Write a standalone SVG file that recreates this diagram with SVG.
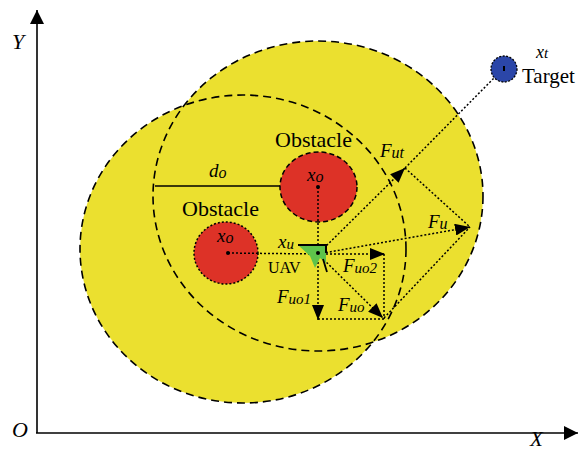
<svg xmlns="http://www.w3.org/2000/svg" width="587" height="450" viewBox="0 0 587 450">
<style>
.t{font-family:"Liberation Serif","Times New Roman",serif;fill:#000}
.i{font-style:italic}
.zone{fill:#ebe02f}
.zoneline{fill:none;stroke:#000;stroke-width:1.6;stroke-dasharray:8 5}
.dot{fill:none;stroke:#000;stroke-width:1.5;stroke-dasharray:2 2}
.axis{stroke:#000;stroke-width:1.6;fill:none}
</style>
<defs>
<marker id="ah" markerUnits="userSpaceOnUse" markerWidth="16" markerHeight="12" refX="15" refY="6" orient="auto">
<path d="M0,0 L15,6 L0,12 Z" fill="#000"/>
</marker>
<marker id="axh" markerUnits="userSpaceOnUse" markerWidth="15" markerHeight="14" refX="14" refY="7" orient="auto">
<path d="M0,0 L14,7 L0,14 Z" fill="#000"/>
</marker>
</defs>
<g id="axes">
<line class="axis" x1="37" y1="433" x2="37" y2="10" marker-end="url(#axh)"/>
<line class="axis" x1="36" y1="433" x2="578" y2="433" marker-end="url(#axh)"/>
<text class="t i" x="12" y="49" font-size="22">Y</text>
<text class="t i" x="12" y="437" font-size="22">O</text>
<text class="t i" x="530" y="446" font-size="21">X</text>
</g>
<g id="zones">
<ellipse class="zone" cx="243" cy="249" rx="163" ry="154"/>
<ellipse class="zone" cx="318" cy="196" rx="165" ry="155"/>
<ellipse class="zoneline" cx="243" cy="249" rx="163" ry="154"/>
<ellipse class="zoneline" cx="318" cy="196" rx="165" ry="155"/>
</g>
<g id="obstacle1">
<ellipse cx="318.5" cy="187" rx="38.5" ry="35" fill="#dd3227" stroke="#000" stroke-width="1.5" stroke-dasharray="5 3"/>
<circle cx="318" cy="187" r="2" fill="#000"/>
<text class="t" x="275" y="147" font-size="22">Obstacle</text>
<text class="t i" x="307" y="181" font-size="19">x<tspan font-size="16" dy="1">o</tspan></text>
</g>
<g id="obstacle2">
<ellipse cx="226" cy="253" rx="32" ry="31" fill="#dd3227" stroke="#000" stroke-width="1.5" stroke-dasharray="2 2"/>
<circle cx="228" cy="253" r="2" fill="#000"/>
<text class="t" x="182" y="216" font-size="22">Obstacle</text>
<text class="t i" x="217" y="242" font-size="19">x<tspan font-size="16" dy="1">o</tspan></text>
</g>
<g id="distance">
<line x1="155" y1="186" x2="280" y2="186" stroke="#000" stroke-width="1.6"/>
<text class="t i" x="209" y="177" font-size="19">d<tspan font-size="16" dy="1">o</tspan></text>
</g>
<g id="target">
<circle cx="504" cy="69" r="13" fill="#2b46a8" stroke="#000" stroke-width="1.3" stroke-dasharray="2 1.5"/>
<line x1="504" y1="66" x2="504" y2="71" stroke="#000" stroke-width="2"/>
<text class="t i" x="536" y="58" font-size="18">x<tspan font-size="15">t</tspan></text>
<text class="t" x="522" y="83" font-size="21">Target</text>
</g>
<g id="connectors">
<line class="dot" x1="318" y1="254" x2="405" y2="168" marker-end="url(#ah)"/>
<line class="dot" x1="405" y1="168" x2="494" y2="78"/>
<line class="dot" x1="318" y1="254" x2="470" y2="227" marker-end="url(#ah)"/>
<line class="dot" x1="318" y1="254" x2="385" y2="254" marker-end="url(#ah)"/>
<line class="dot" x1="318" y1="254" x2="318" y2="320" marker-end="url(#ah)"/>
<line class="dot" x1="318" y1="254" x2="383" y2="318" marker-end="url(#ah)"/>
<line class="dot" x1="318" y1="319" x2="384" y2="319"/>
<line class="dot" x1="384" y1="254" x2="384" y2="319"/>
<line class="dot" x1="405" y1="168" x2="470" y2="227"/>
<line class="dot" x1="384" y1="318" x2="470" y2="227"/>
<line class="dot" x1="318" y1="187" x2="318" y2="254"/>
<line class="dot" x1="228" y1="253" x2="318" y2="254"/>
</g>
<g id="uav">
<path d="M298,245 L326,245 L326,263 L320,258 L315,268 L310,256 Z" fill="#5ec34b"/>
<path d="M298,245 L326,245 L326,253" fill="none" stroke="#000" stroke-width="2"/>
<line x1="323" y1="259" x2="327" y2="272" stroke="#000" stroke-width="1.8"/>
<circle cx="318" cy="253" r="2" fill="#000"/>
<text class="t i" x="278" y="248" font-size="19">x<tspan font-size="15" dy="1">u</tspan></text>
<text class="t" x="268" y="273" font-size="16">UAV</text>
</g>
<g id="labels">
<text class="t i" x="380" y="157" font-size="19">F<tspan font-size="16" dy="1">ut</tspan></text>
<text class="t i" x="428" y="228" font-size="19">F<tspan font-size="16" dy="1">u</tspan></text>
<text class="t i" x="343" y="272" font-size="19">F<tspan font-size="15" dy="1">uo2</tspan></text>
<text class="t i" x="277" y="303" font-size="19">F<tspan font-size="15" dy="1">uo1</tspan></text>
<text class="t i" x="338" y="311" font-size="19">F<tspan font-size="15" dy="1">uo</tspan></text>
</g>
</svg>
